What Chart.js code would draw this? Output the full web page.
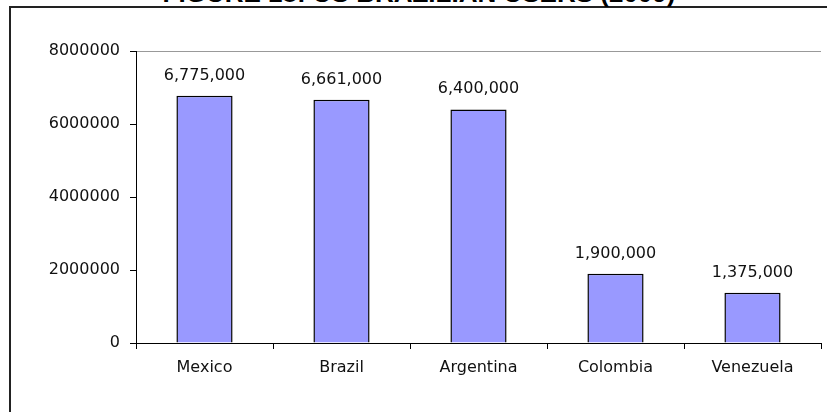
<!DOCTYPE html>
<html>
<head>
<meta charset="utf-8">
<script src="https://cdn.jsdelivr.net/npm/chart.js@4/dist/chart.umd.min.js"></script>
<style>
    body { margin: 0; background: #fff; overflow: hidden; }
    #frame {
        position: absolute; left: 9px; top: 6px; width: 900px; height: 500px;
        border-top: 2px solid #222; border-left: 2px solid #222;
    }
    #title {
        position: absolute; left: 0; width: 838px; top: -20px; text-align: center;
        font: bold 26px "Liberation Sans", Arial, sans-serif; line-height: 26px; color: #000;
    }
    #chart { position: absolute; left: 0; top: 0; }
</style>
</head>
<body>
<div id="frame"></div>
<div id="title">FIGURE 18: US BRAZILIAN USERS (2009)</div>
<canvas id="chart" width="827" height="412"></canvas>
<script>
const categories = ['Mexico', 'Brazil', 'Argentina', 'Colombia', 'Venezuela'];
const users = [6775000, 6661000, 6400000, 1900000, 1375000];
const yTicks = [0, 2000000, 4000000, 6000000, 8000000];

const FONT = '"DejaVu Sans", sans-serif';

// numbers above each bar
const valueLabels = {
    id: 'valueLabels',
    afterDatasetsDraw(chart) {
        const ctx = chart.ctx;
        const meta = chart.getDatasetMeta(0);
        ctx.save();
        ctx.font = '16px ' + FONT;
        ctx.fillStyle = '#111';
        ctx.textAlign = 'center';
        ctx.textBaseline = 'alphabetic';
        meta.data.forEach((bar, i) => {
            ctx.fillText(users[i].toLocaleString('en-US'), bar.x, bar.y - 16);
        });
        ctx.restore();
    }
};

new Chart(document.getElementById('chart').getContext('2d'), {
    type: 'bar',
    data: {
        labels: categories,
        datasets: [{
            data: users,
            backgroundColor: '#9999FF',
            borderColor: '#000',
            borderWidth: 1.5,
            categoryPercentage: 1,
            barPercentage: 0.41
        }]
    },
    options: {
        responsive: false,
        devicePixelRatio: 1,
        animation: false,
        layout: { padding: { top: 51, right: 6, left: 0, bottom: 0 } },
        plugins: {
            legend: { display: false },
            tooltip: { enabled: false }
        },
        scales: {
            y: {
                min: yTicks[0],
                max: yTicks[yTicks.length - 1],
                afterBuildTicks: (scale) => { scale.ticks = yTicks.map(v => ({ value: v })); },
                afterFit: (scale) => { scale.width = 136; },
                ticks: {
                    padding: 10,
                    color: '#111',
                    font: { family: FONT, size: 16 },
                    callback: (v) => String(v)
                },
                grid: {
                    color: (c) => (c.tick && c.tick.value === 8000000) ? '#999' : 'transparent',
                    tickColor: '#000',
                    tickLength: 6
                },
                border: { color: '#000', width: 1 }
            },
            x: {
                afterFit: (scale) => { scale.height = 69; },
                ticks: {
                    padding: 9,
                    color: '#111',
                    font: { family: FONT, size: 16 }
                },
                grid: {
                    offset: true,
                    color: (c) => c.index === categories.length ? '#999' : 'transparent',
                    tickColor: '#000',
                    tickLength: 6
                },
                border: { color: '#000', width: 1 }
            }
        }
    },
    plugins: [valueLabels]
});
</script>
</body>
</html>
